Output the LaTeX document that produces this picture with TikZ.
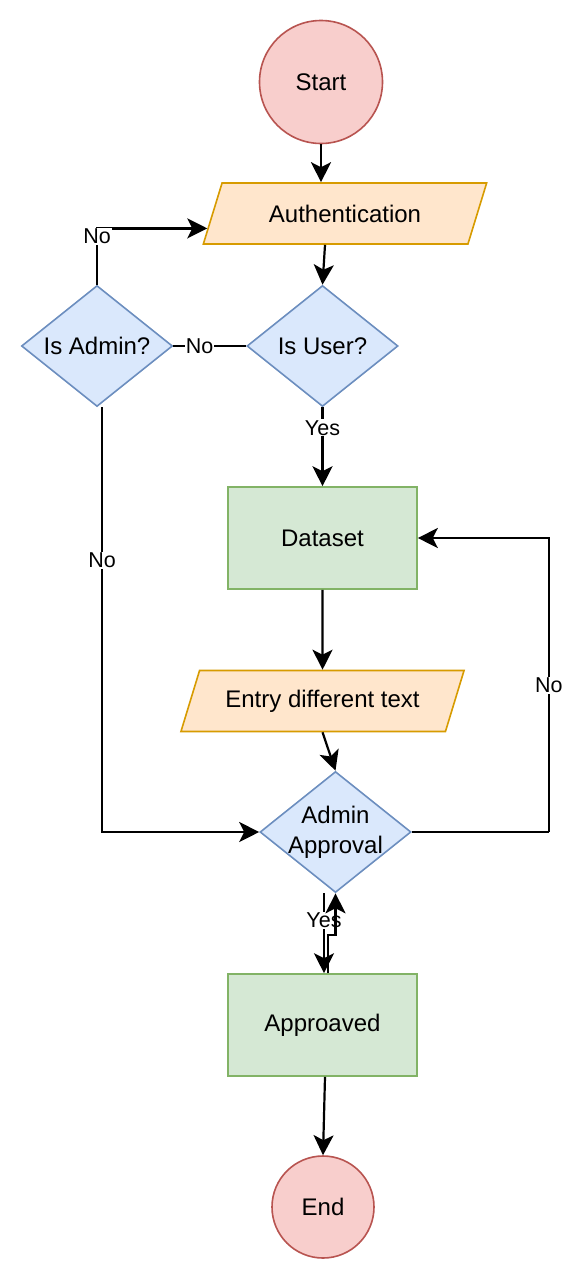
\documentclass[tikz,border=0pt]{standalone}
\usepackage{fontspec}
\setmainfont{Liberation Sans}
\usetikzlibrary{shapes.geometric,arrows.meta,calc}
\definecolor{redF}{HTML}{F8CECC}\definecolor{redD}{HTML}{B85450}
\definecolor{orF}{HTML}{FFE6CC}\definecolor{orD}{HTML}{D79B00}
\definecolor{blF}{HTML}{DAE8FC}\definecolor{blD}{HTML}{6C8EBF}
\definecolor{grF}{HTML}{D5E8D4}\definecolor{grD}{HTML}{82B366}
\begin{document}
\begin{tikzpicture}[x=1pt,y=-1pt,
  nodefont/.style={font=\fontsize{24}{30}\selectfont},
  term/.style={circle, draw=redD, fill=redF, line width=1.6pt, inner sep=0pt, nodefont},
  io/.style={trapezium, trapezium left angle=56.7, trapezium right angle=123.3,
     trapezium stretches=true, minimum width=284pt, minimum height=61pt,
     draw=orD, fill=orF, line width=1.6pt, inner sep=0pt, nodefont},
  dia/.style={diamond, aspect=1.25, minimum width=151pt, minimum height=121pt,
     draw=blD, fill=blF, line width=1.6pt, inner sep=0pt, nodefont},
  proc/.style={rectangle, minimum width=189pt, minimum height=102pt,
     draw=grD, fill=grF, line width=1.6pt, nodefont},
  txt/.style={inner sep=0pt, nodefont, align=center},
  ln/.style={line width=2.2pt, black},
  arr/.style={ln, -{Stealth[length=20pt,width=20pt,inset=5pt]}},
  lbl/.style={fill=white, inner sep=1pt, font=\fontsize{21.5}{24}\selectfont}
]
\useasboundingbox (0,0) rectangle (586,1280);
\fill[white] (0,0) rectangle (586,1280);

\node[term, minimum size=123pt] (start) at (321,82) {Start};
\node[io] (auth) at (345,213.5) {Authentication};
\node[dia] (user) at (322.5,346) {Is User?};
\node[dia] (admin) at (97,346) {Is Admin?};
\node[proc] (data) at (322.5,538) {Dataset};
\node[io] (entry) at (322.5,701) {Entry different text};
\node[dia] (appr) at (335.5,832) {};
\node[txt] (apprtxt) at (335.5,832) {Admin\\Approval};
\node[proc] (done) at (322.5,1025) {Approaved};
\node[term, minimum size=102pt] (end) at (323,1207) {End};

\coordinate (authin) at ($(auth.bottom left corner)!0.262!(auth.top left corner)$);
\coordinate (rc) at ([xshift=137pt]appr.east);

\draw[arr] (start.south) -- (start.south |- auth.north);
\draw[arr] ([xshift=-20pt]auth.south) -- (user.north);
\draw[ln] (user.west) -- node[lbl, pos=0.64]{No} (admin.east);
\draw[arr] (admin.north) |- node[lbl, pos=0.43]{No} (authin);
\draw[arr] (user.south) -- node[lbl, pos=0.26]{Yes} (data.north);
\draw[arr] ([xshift=5pt]admin.south) |- node[lbl, pos=0.18]{No} (appr.west);
\draw[arr] (data.south) -- (entry.north);
\draw[arr] (entry.south) -- (appr.north);
\draw[ln] (appr.east) -- (rc);
\draw[arr] (rc) |- node[lbl, pos=0.25]{No} (data.east);
\draw[arr] ([xshift=-11.5pt]appr.south) -- node[lbl, pos=0.34]{Yes} ([xshift=-11.5pt]appr.south |- done.north);
\draw[arr] ([xshift=5.5pt]done.north) |- ([yshift=-42pt]appr.south) -- (appr.south);
\draw[arr] ([xshift=2.5pt]done.south) -- (end.north);
\end{tikzpicture}
\end{document}
